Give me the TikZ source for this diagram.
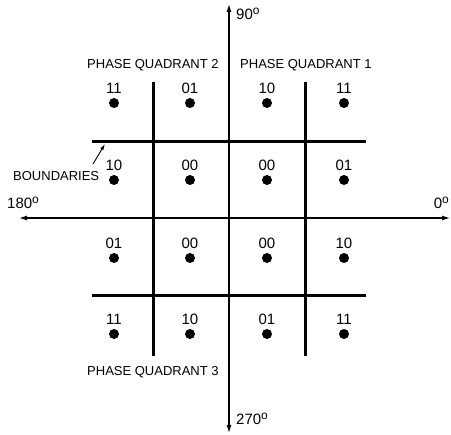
\documentclass[tikz,border=0pt]{standalone}
\usepackage{fontspec}
\setmainfont{Liberation Sans}
\usetikzlibrary{arrows.meta}
\newcommand{\dgr}{\raisebox{0.36em}{\fontsize{12}{12}\selectfont o}}
\begin{document}
\begin{tikzpicture}[x=1pt,y=-1pt,
  axis/.style={line width=1.2pt, {Latex[length=8pt,width=5pt]}-{Latex[length=8pt,width=5pt]}},
  bound/.style={line width=3pt},
  dot/.style={circle, fill=black, inner sep=0pt, minimum size=10pt},
  code/.style={font=\fontsize{15}{15}\selectfont, inner sep=0pt},
  lbl/.style={font=\fontsize{13}{13}\selectfont, inner sep=0pt},
  deg/.style={font=\fontsize{15}{15}\selectfont, inner sep=0pt},
]
\useasboundingbox (0,0) rectangle (451,435);
% axes
\coordinate (N) at (229,4);
\coordinate (S) at (229,433);
\coordinate (W) at (19,218);
\coordinate (E) at (450,218);
\draw[axis] (N) -- (S);
\draw[axis] (W) -- (E);
% boundaries
\coordinate (v1t) at (153,82);  \coordinate (v1b) at (153,356);
\coordinate (v2t) at (305,82);  \coordinate (v2b) at (305,356);
\coordinate (h1l) at (92,142);  \coordinate (h1r) at (366,142);
\coordinate (h2l) at (92,296);  \coordinate (h2r) at (366,296);
\draw[bound] (v1t) -- (v1b);
\draw[bound] (v2t) -- (v2b);
\draw[bound] (h1l) -- (h1r);
\draw[bound] (h2l) -- (h2r);
% dots and codes
\foreach \r/\y/\ca/\cb/\cc/\cd in {1/103/11/01/10/11, 2/180/10/00/00/01, 3/258/01/00/00/10, 4/334/11/10/01/11}{
  \node[dot] (d\r a) at (114,\y) {};
  \node[dot] (d\r b) at (190,\y) {};
  \node[dot] (d\r c) at (267,\y) {};
  \node[dot] (d\r d) at (344,\y) {};
  \node[code] (t\r a) at (114,\y-15) {\ca};
  \node[code] (t\r b) at (190,\y-15) {\cb};
  \node[code] (t\r c) at (267,\y-15) {\cc};
  \node[code] (t\r d) at (344,\y-15) {\cd};
}
% axis labels
\node[deg, anchor=west] (l90) at (236,14) {90\dgr};
\node[deg, anchor=west] (l270) at (236,419) {270\dgr};
\node[deg, anchor=west] (l180) at (7,203) {180\dgr};
\node[deg, anchor=east] (l0) at (449,203) {0\dgr};
% quadrant labels
\node[lbl, anchor=west] (q2) at (87,65) {PHASE QUADRANT 2};
\node[lbl, anchor=west] (q1) at (240,65) {PHASE QUADRANT 1};
\node[lbl, anchor=west] (q3) at (87,372) {PHASE QUADRANT 3};
% boundaries label
\node[lbl, anchor=west] (bl) at (13,176) {BOUNDARIES};
\coordinate (bs) at (93,164);
\coordinate (bt) at (105,144);
\draw[line width=0.9pt, -{Latex[length=6pt,width=3.5pt]}] (bs) -- (bt);
\end{tikzpicture}
\end{document}
